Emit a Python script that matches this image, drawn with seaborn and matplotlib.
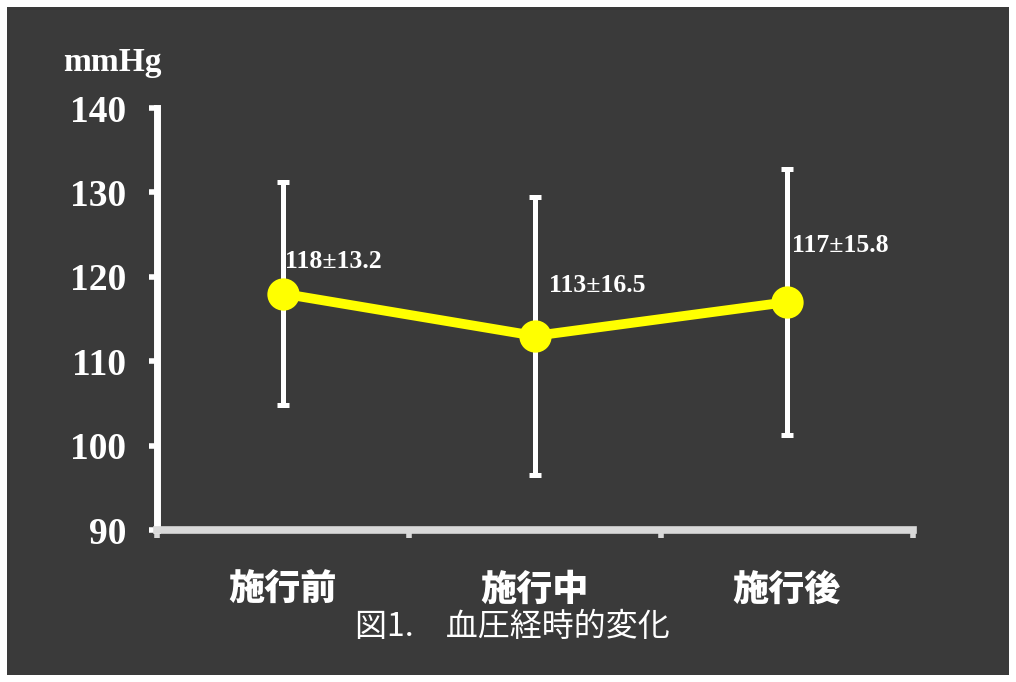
import numpy as np
import pandas as pd
import seaborn as sns
import matplotlib.pyplot as plt
from matplotlib.patches import Rectangle
from matplotlib.ticker import FixedLocator

# =============================================================================
# Data
# =============================================================================

phases = ["施行前", "施行中", "施行後"]
bp_mean = [118, 113, 117]
bp_sd = [13.2, 16.5, 15.8]
y_ticks = [90, 100, 110, 120, 130, 140]
caption = "図1.\u3000血圧経時的変化"
unit_label = "mmHg"

# label offsets (points) for the "mean±sd" text next to each point
label_offsets = [(1.5, 23), (10, 36), (3.5, 41)]

df = pd.DataFrame({"phase": phases, "mean": bp_mean, "sd": bp_sd})

# =============================================================================
# Plot
# =============================================================================

bg = "#3a3a3a"
sns.set_style("white")
plt.rcParams["font.family"] = ["Liberation Serif", "Noto Sans CJK JP", "DejaVu Sans"]

fig = plt.figure(figsize=(10.16, 6.82), dpi=100, facecolor="white")
fig.patches.append(Rectangle((7 / 1016, 7 / 682), 1002 / 1016, 668 / 682,
                             transform=fig.transFigure, facecolor=bg,
                             edgecolor="none", zorder=-10))
ax = fig.add_axes([157 / 1016, 1 - 530 / 682, 756 / 1016, 422 / 682])
ax.set_facecolor(bg)

# error bars (±SD) behind the line
ax.errorbar(
    x=np.arange(len(df)),
    y=df["mean"],
    yerr=df["sd"],
    fmt="none",
    ecolor="white",
    elinewidth=3.6,
    capsize=4.5,
    capthick=3.6,
    zorder=2,
)

sns.pointplot(
    data=df,
    x="phase",
    y="mean",
    color="#ffff00",
    markers="o",
    markersize=18,
    linewidth=7,
    errorbar=None,
    ax=ax,
    zorder=3,
)

for i, (m, s) in enumerate(zip(bp_mean, bp_sd)):
    ax.annotate(f"{m}±{s}", xy=(i, m), xytext=label_offsets[i],
                textcoords="offset points", ha="left", va="center",
                color="white", fontsize=18.5, fontweight="bold",
                family=["Liberation Serif", "DejaVu Sans"], zorder=4)

ax.set_ylim(90, 140)
ax.set_xlim(-0.5, len(phases) - 0.5)
ax.set_yticks(y_ticks)
ax.set_yticklabels([str(t) for t in y_ticks], fontsize=27, fontweight="bold",
                   color="white", family="Liberation Serif")
ax.set_xticks(range(len(phases)))
ax.set_xticklabels(phases, fontsize=26, fontweight=900, color="white",
                   family="Noto Sans CJK JP")
ax.xaxis.set_minor_locator(FixedLocator(np.arange(-0.5, len(phases), 1.0)))

ax.tick_params(axis="y", which="major", length=6, width=4, color="white",
               pad=16, direction="out", left=True)
ax.tick_params(axis="x", which="major", length=0, pad=30)
ax.tick_params(axis="x", which="minor", length=6, width=4, color="#d9d9d9",
               direction="out", bottom=True)

ax.set_xlabel("")
ax.set_ylabel("")
for side in ["top", "right"]:
    ax.spines[side].set_visible(False)
ax.spines["left"].set_color("white")
ax.spines["left"].set_linewidth(5)
ax.spines["bottom"].set_color("#d9d9d9")
ax.spines["bottom"].set_linewidth(5.5)

fig.text(112 / 1016, 1 - 63 / 682, unit_label, ha="center", va="center",
         color="white", fontsize=24, fontweight="bold",
         family="Liberation Serif")
fig.text(512 / 1016, 1 - 627 / 682, caption, ha="center", va="center",
         color="white", fontsize=23,
         family=["Noto Sans CJK JP", "DejaVu Sans"])

fig.savefig("out.png", dpi=100, facecolor="white")
